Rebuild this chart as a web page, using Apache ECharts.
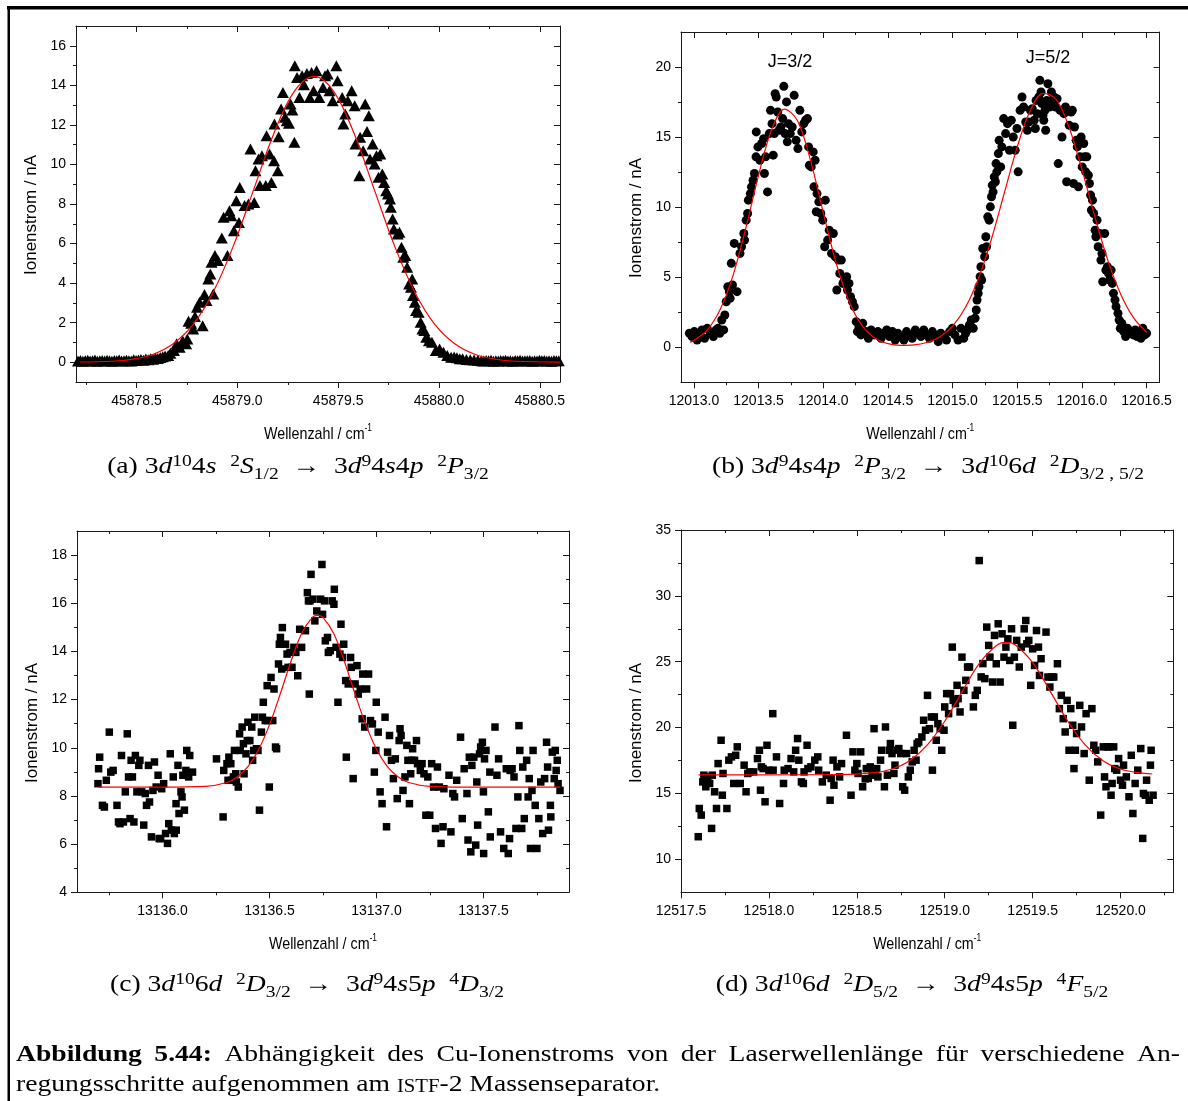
<!DOCTYPE html>
<html>
<head>
<meta charset="utf-8">
<script src="https://cdn.jsdelivr.net/npm/echarts@6/dist/echarts.min.js"></script>
<style>
html,body{margin:0;padding:0;background:#fff}
#chart{width:1188px;height:1101px}
</style>
</head>
<body>
<div id="chart"></div>
<script>
// ---------- (a) 3d10 4s 2S1/2 -> 3d9 4s4p 2P3/2 ----------
const scanA = [
[45878.210,0.06],[45878.222,0.09],[45878.234,0.05],[45878.246,0.08],[45878.258,0.10],[45878.270,0.06],[45878.282,0.07],[45878.294,0.11],[45878.306,0.05],[45878.318,0.08],[45878.330,0.09],[45878.342,0.06],[45878.354,0.10],[45878.366,0.07],[45878.378,0.05],[45878.390,0.09],[45878.402,0.08],[45878.414,0.11],[45878.426,0.06],[45878.438,0.07],[45878.450,0.10],[45878.462,0.08],[45878.474,0.06],[45878.486,0.12],[45878.498,0.09],
[45878.510,0.11],[45878.522,0.14],[45878.534,0.10],[45878.546,0.16],[45878.558,0.13],[45878.570,0.18],[45878.582,0.15],[45878.594,0.21],[45878.606,0.19],[45878.618,0.24],[45878.630,0.28],[45878.642,0.31],[45878.657,0.34],[45878.668,0.45],[45878.686,0.59],[45878.699,0.93],[45878.714,0.76],[45878.729,1.09],[45878.746,0.93],[45878.752,1.18],[45878.758,2.07],[45878.771,1.97],[45878.781,1.68],[45878.790,2.31],[45878.800,2.78],[45878.813,3.03],[45878.828,1.85],[45878.837,3.42],[45878.847,3.12],[45878.856,4.21],[45878.866,4.46],[45878.872,5.05],[45878.881,3.45],[45878.889,5.39],[45878.904,5.14],[45878.923,6.28],[45878.932,7.33],[45878.951,5.39],[45878.961,7.66],[45878.970,7.41],[45878.983,6.65],[45878.995,8.17],
[45879.008,7.07],[45879.012,8.84],[45879.036,7.92],[45879.055,8.00],[45879.065,10.78],[45879.084,8.08],[45879.090,9.68],[45879.105,10.27],[45879.112,8.93],[45879.122,10.44],[45879.141,8.93],[45879.145,11.45],[45879.160,10.53],[45879.169,9.09],[45879.182,10.19],[45879.184,12.04],[45879.201,9.68],[45879.205,11.40],[45879.217,12.80],[45879.226,13.64],[45879.236,12.38],[45879.245,12.21],[45879.256,12.08],[45879.264,13.05],[45879.273,12.75],[45879.283,11.12],[45879.285,14.99],[45879.296,14.40],[45879.308,13.39],[45879.321,14.48],[45879.330,14.03],[45879.345,14.60],[45879.359,13.39],[45879.368,14.65],[45879.378,13.73],[45879.393,14.74],[45879.406,13.39],[45879.425,13.89],[45879.435,14.48],[45879.448,14.57],[45879.457,13.73],[45879.473,13.22],[45879.491,14.99],[45879.497,14.23],
[45879.520,13.39],[45879.526,12.04],[45879.535,12.55],[45879.548,13.22],[45879.567,13.73],[45879.582,12.97],[45879.586,11.03],[45879.605,9.43],[45879.609,11.37],[45879.624,10.69],[45879.634,13.05],[45879.643,11.67],[45879.652,12.46],[45879.658,10.27],[45879.671,11.03],[45879.681,10.02],[45879.690,10.44],[45879.700,9.35],[45879.709,10.53],[45879.719,9.52],[45879.728,9.09],[45879.738,8.67],[45879.747,8.51],[45879.757,8.25],[45879.761,7.83],[45879.770,7.24],[45879.776,6.74],[45879.795,6.48],[45879.804,6.57],[45879.814,5.81],[45879.823,5.31],[45879.833,5.39],[45879.842,4.80],[45879.852,3.96],[45879.861,3.79],[45879.867,4.21],[45879.871,3.37],[45879.880,3.03],[45879.886,2.61],[45879.899,2.53],[45879.909,2.02],[45879.918,1.68],[45879.927,1.60],[45879.937,1.26],[45879.950,1.09],[45879.965,1.01],[45879.984,0.59],
[45880.003,0.67],[45880.022,0.51],[45880.041,0.34],[45880.060,0.25],[45880.075,0.27],[45880.089,0.22],[45880.103,0.18],[45880.117,0.17],[45880.136,0.14],[45880.155,0.13],[45880.174,0.11],[45880.193,0.10],
[45880.210,0.08],[45880.222,0.06],[45880.234,0.09],[45880.246,0.07],[45880.258,0.10],[45880.270,0.05],[45880.282,0.08],[45880.294,0.06],[45880.306,0.09],[45880.318,0.07],[45880.330,0.10],[45880.342,0.06],[45880.354,0.08],[45880.366,0.05],[45880.378,0.09],[45880.390,0.07],[45880.402,0.10],[45880.414,0.06],[45880.426,0.08],[45880.438,0.07],[45880.450,0.09],[45880.462,0.05],[45880.474,0.08],[45880.486,0.06],[45880.498,0.10],[45880.510,0.07],[45880.522,0.09],[45880.534,0.06],[45880.546,0.08],[45880.558,0.05],[45880.570,0.09],[45880.582,0.07],[45880.594,0.08]
];
const fitA = [
[45878.22,0.01],[45878.38,0.05],[45878.48,0.15],[45878.58,0.39],[45878.68,0.92],[45878.78,1.90],[45878.88,3.54],[45878.98,5.87],[45879.08,8.70],[45879.18,11.54],[45879.28,13.66],[45879.38,14.45],
[45879.48,13.66],[45879.58,11.54],[45879.68,8.70],[45879.78,5.87],[45879.88,3.54],[45879.98,1.90],[45880.08,0.92],[45880.18,0.39],[45880.28,0.15],[45880.38,0.05],[45880.60,0.00]
];

// ---------- (b) 3d9 4s4p 2P3/2 -> 3d10 6d 2D3/2,5/2 ----------
const scanB = [
[12012.965,1.00],[12012.985,0.76],[12013.003,1.12],[12013.024,0.52],[12013.038,1.00],[12013.062,1.24],[12013.082,0.64],[12013.103,1.35],[12013.127,1.00],[12013.150,0.76],[12013.171,1.24],[12013.186,1.35],[12013.200,1.00],[12013.215,1.95],[12013.230,1.24],[12013.239,2.30],[12013.250,3.25],[12013.262,4.32],[12013.274,3.97],[12013.280,3.49],[12013.289,5.99],[12013.298,4.44],[12013.312,7.41],[12013.333,3.97],[12013.356,6.70],[12013.368,7.17],[12013.386,8.12],[12013.392,7.65],[12013.404,9.07],[12013.415,9.55],[12013.421,10.50],[12013.436,10.97],[12013.445,11.45],[12013.457,11.92],[12013.468,12.40],[12013.480,13.59],[12013.482,15.37],[12013.495,14.30],
[12013.510,13.35],[12013.524,14.54],[12013.539,14.89],[12013.545,12.40],[12013.554,13.59],[12013.569,11.09],[12013.583,15.25],[12013.592,16.91],[12013.604,15.96],[12013.613,13.71],[12013.622,15.25],[12013.628,18.10],[12013.636,17.86],[12013.648,16.79],[12013.657,15.49],[12013.672,15.72],[12013.686,16.32],[12013.695,18.62],[12013.704,15.25],[12013.716,17.51],[12013.722,14.66],[12013.731,15.96],[12013.745,15.25],[12013.760,15.72],[12013.775,17.98],[12013.790,14.77],[12013.804,14.18],[12013.819,16.91],[12013.834,15.37],[12013.849,15.96],[12013.863,16.20],[12013.878,16.32],[12013.887,14.30],[12013.893,12.99],[12013.907,12.87],[12013.922,13.94],[12013.928,11.45],[12013.937,13.35],[12013.946,9.67],[12013.952,10.97],[12013.966,10.38],[12013.981,9.55],[12013.996,9.07],
[12014.011,7.17],[12014.016,10.50],[12014.034,7.65],[12014.046,8.36],[12014.064,6.70],[12014.078,8.12],[12014.093,6.46],[12014.105,4.09],[12014.117,6.22],[12014.128,5.27],[12014.140,6.22],[12014.152,4.56],[12014.164,4.80],[12014.181,5.04],[12014.187,4.09],[12014.199,4.56],[12014.211,3.61],[12014.226,3.25],[12014.240,2.90],[12014.255,1.83],[12014.264,1.12],[12014.276,1.47],[12014.291,0.88],[12014.305,1.71],[12014.329,1.12],[12014.349,0.64],[12014.370,1.24],[12014.394,0.88],[12014.423,1.12],[12014.447,0.64],[12014.467,1.00],[12014.491,1.24],[12014.512,0.76],[12014.535,1.12],[12014.556,0.52],[12014.576,1.00],[12014.600,0.76],[12014.623,0.52],[12014.644,1.12],[12014.668,0.88],[12014.688,0.64],[12014.712,1.24],[12014.732,1.00],[12014.756,0.76],[12014.777,1.24],[12014.800,0.88],[12014.821,0.64],[12014.844,1.12],[12014.865,0.76],[12014.889,0.40],[12014.909,1.00],[12014.933,0.76],[12014.953,0.52],[12014.977,1.12],[12014.998,1.35],
[12015.018,0.88],[12015.042,0.52],[12015.065,1.35],[12015.086,0.64],[12015.101,1.00],[12015.115,1.24],[12015.130,1.59],[12015.145,1.95],[12015.160,1.35],[12015.174,2.07],[12015.183,2.66],[12015.189,3.37],[12015.198,3.85],[12015.204,4.32],[12015.213,5.04],[12015.219,5.75],[12015.225,4.80],[12015.233,7.05],[12015.248,6.46],[12015.257,7.89],[12015.263,7.17],[12015.272,9.31],[12015.283,9.07],[12015.292,10.02],[12015.301,10.74],[12015.307,11.57],[12015.313,11.09],[12015.322,12.16],[12015.331,11.81],[12015.336,13.11],[12015.342,12.52],[12015.354,13.82],[12015.360,14.77],[12015.372,12.87],[12015.381,14.30],[12015.395,16.32],[12015.410,15.25],[12015.425,15.96],[12015.440,14.06],[12015.454,16.20],[12015.469,15.01],[12015.484,14.06],[12015.498,15.61],
[12015.507,12.52],[12015.522,16.91],[12015.537,17.86],[12015.549,17.15],[12015.566,16.08],[12015.578,15.49],[12015.587,16.08],[12015.602,16.91],[12015.616,17.03],[12015.631,16.20],[12015.640,15.61],[12015.646,17.62],[12015.655,16.67],[12015.667,17.86],[12015.675,19.05],[12015.684,18.22],[12015.690,17.39],[12015.699,16.56],[12015.705,16.20],[12015.714,16.91],[12015.720,15.49],[12015.728,17.62],[12015.737,18.81],[12015.749,17.15],[12015.764,18.22],[12015.773,17.62],[12015.784,17.86],[12015.796,17.15],[12015.808,17.74],[12015.817,13.11],[12015.831,16.91],[12015.846,15.01],[12015.861,16.67],[12015.873,17.15],[12015.882,11.81],[12015.890,16.91],[12015.902,15.84],[12015.917,16.79],[12015.926,16.91],[12015.935,11.69],[12015.943,15.72],[12015.955,14.77],[12015.964,14.30],[12015.973,11.45],[12015.985,13.59],[12015.994,15.01],
[12016.002,12.87],[12016.014,14.54],[12016.020,13.59],[12016.029,12.52],[12016.038,13.59],[12016.050,12.28],[12016.058,11.69],[12016.067,10.86],[12016.073,9.79],[12016.082,10.50],[12016.091,9.55],[12016.102,8.36],[12016.108,7.89],[12016.117,9.07],[12016.126,7.17],[12016.138,8.12],[12016.147,6.22],[12016.155,6.70],[12016.161,4.68],[12016.176,8.12],[12016.185,5.51],[12016.197,5.75],[12016.206,5.27],[12016.214,4.80],[12016.226,5.51],[12016.235,4.56],[12016.244,3.85],[12016.256,3.37],[12016.264,2.90],[12016.279,2.42],[12016.288,1.95],[12016.297,1.35],[12016.309,1.71],[12016.323,1.12],[12016.338,0.76],[12016.353,1.35],[12016.368,1.00],[12016.382,1.12],[12016.397,0.88],[12016.412,1.24],[12016.427,0.76],[12016.441,1.00],[12016.456,0.64],[12016.471,1.35],[12016.486,0.88],[12016.500,1.00]
];
const fitB = [
[12012.97,0.37],[12013.0,0.49],[12013.1,1.20],[12013.2,2.64],[12013.3,5.06],[12013.4,8.46],[12013.5,12.29],[12013.6,15.51],[12013.7,17.00],[12013.8,16.18],[12013.9,13.38],[12014.0,9.61],[12014.1,6.00],[12014.2,3.26],[12014.3,1.54],[12014.4,0.65],[12014.5,0.26],[12014.6,0.14],[12014.7,0.17],[12014.8,0.34],[12014.9,0.74],
[12015.0,1.51],[12015.1,2.85],[12015.2,4.91],[12015.3,7.71],[12015.4,11.01],[12015.5,14.30],[12015.6,16.88],[12015.7,18.13],[12015.8,17.70],[12015.9,15.72],[12016.0,12.69],[12016.1,9.32],[12016.2,6.22],[12016.3,3.79],[12016.4,2.10],[12016.5,1.07]
];

// ---------- (c) 3d10 6d 2D3/2 -> 3d9 4s5p 4D3/2 ----------
const scanC = [
[13135.698,8.51],[13135.701,9.13],[13135.706,9.61],[13135.719,7.61],[13135.728,7.54],[13135.737,8.65],[13135.751,10.65],[13135.758,8.99],[13135.769,9.06],[13135.787,7.61],[13135.794,6.92],[13135.801,6.85],[13135.808,9.68],[13135.817,6.92],[13135.826,8.17],[13135.835,10.58],[13135.841,8.79],[13135.848,7.06],[13135.853,9.48],[13135.859,8.79],[13135.866,6.92],[13135.873,9.68],[13135.880,8.17],[13135.889,9.27],[13135.894,9.48],[13135.902,8.17],[13135.912,6.79],[13135.919,8.10],[13135.925,7.61],[13135.934,9.27],[13135.939,7.75],[13135.948,6.30],[13135.955,8.23],[13135.962,9.41],[13135.970,8.37],[13135.979,8.86],[13135.984,6.23],[13135.991,6.23],[13135.996,8.30],
[13136.005,8.51],[13136.014,6.44],[13136.023,6.03],[13136.029,6.85],[13136.036,9.75],[13136.041,6.58],[13136.050,8.79],[13136.055,6.44],[13136.063,7.68],[13136.064,6.58],[13136.072,9.27],[13136.077,7.27],[13136.086,8.17],[13136.091,7.96],[13136.095,8.86],[13136.102,7.41],[13136.109,9.06],[13136.113,9.89],[13136.122,8.79],[13136.127,9.68],[13136.140,8.99],
[13136.252,9.54],[13136.283,7.13],[13136.286,9.06],[13136.301,9.34],[13136.306,8.65],[13136.310,9.61],[13136.319,9.34],[13136.322,8.65],[13136.331,8.79],[13136.336,9.89],[13136.342,8.92],[13136.345,8.58],[13136.354,8.37],[13136.360,10.58],[13136.363,9.89],[13136.372,10.86],[13136.378,10.17],[13136.381,8.92],[13136.390,9.75],[13136.396,10.30],[13136.399,11.06],[13136.408,10.30],[13136.417,10.86],[13136.421,9.48],[13136.426,9.89],[13136.431,11.27],[13136.439,9.96],[13136.446,9.89],[13136.453,7.41],[13136.462,10.65],[13136.467,11.27],[13136.471,11.89],[13136.480,11.13],[13136.489,12.58],[13136.492,11.13],[13136.499,8.37],
[13136.507,12.92],[13136.515,11.13],[13136.521,12.44],[13136.528,10.03],[13136.533,9.96],[13136.542,13.48],[13136.546,14.30],[13136.551,14.58],[13136.557,13.27],[13136.560,14.99],[13136.575,14.30],[13136.582,13.89],[13136.587,13.34],[13136.596,13.96],[13136.605,13.34],[13136.614,14.17],[13136.623,13.96],[13136.632,12.99],[13136.641,14.92],[13136.650,14.17],[13136.668,14.86],[13136.677,16.44],[13136.682,16.10],[13136.686,12.23],[13136.689,16.10],[13136.694,17.20],[13136.703,16.17],[13136.712,15.27],[13136.721,15.68],[13136.739,16.17],[13136.745,17.61],[13136.748,15.54],[13136.757,16.10],[13136.761,14.44],[13136.771,14.58],[13136.775,13.96],[13136.784,14.03],[13136.793,16.10],[13136.801,15.96],[13136.803,16.58],[13136.811,14.17],[13136.820,11.89],[13136.829,13.89],[13136.834,15.13],[13136.841,13.75],[13136.847,14.30],[13136.856,12.79],[13136.859,9.61],[13136.868,12.65],[13136.879,13.75],[13136.882,13.34],[13136.891,8.72],[13136.900,12.65],[13136.909,13.41],[13136.915,12.23],[13136.924,12.44],[13136.933,11.20],[13136.936,13.06],[13136.945,10.86],[13136.954,12.44],[13136.963,13.06],[13136.972,11.13],[13136.981,10.99],[13136.990,8.99],[13136.997,9.89],[13136.999,11.89],
[13137.008,10.65],[13137.017,8.17],[13137.026,7.68],[13137.040,11.27],[13137.047,6.72],[13137.052,9.82],[13137.061,10.51],[13137.070,9.48],[13137.079,8.72],[13137.088,9.54],[13137.097,7.89],[13137.106,10.30],[13137.110,10.79],[13137.115,10.51],[13137.124,8.23],[13137.133,8.79],[13137.142,10.10],[13137.147,9.48],[13137.154,7.68],[13137.160,8.92],[13137.165,9.48],[13137.169,9.96],[13137.178,9.48],[13137.187,10.30],[13137.192,9.34],[13137.205,9.06],[13137.213,9.34],[13137.222,8.92],[13137.231,7.20],[13137.240,8.79],[13137.249,7.20],[13137.258,9.34],[13137.267,8.37],[13137.276,6.65],[13137.285,9.20],[13137.294,8.37],[13137.302,6.03],[13137.311,6.72],[13137.315,8.30],[13137.339,8.86],[13137.348,6.51],[13137.357,8.10],[13137.365,7.96],[13137.375,8.65],[13137.393,10.44],[13137.401,7.06],[13137.410,9.13],[13137.423,8.10],[13137.428,6.17],[13137.434,9.61],[13137.441,5.68],[13137.446,9.27],[13137.455,9.61],[13137.464,5.96],[13137.469,8.58],[13137.473,6.79],[13137.482,9.75],[13137.487,10.03],[13137.495,10.23],[13137.500,8.17],[13137.501,5.61],
[13137.505,9.54],[13137.512,9.89],[13137.523,7.34],[13137.530,8.99],[13137.532,6.30],[13137.554,10.86],[13137.563,8.86],[13137.571,9.54],[13137.580,6.51],[13137.595,5.82],[13137.607,9.13],[13137.616,5.61],[13137.622,6.23],[13137.625,9.06],[13137.634,9.13],[13137.643,8.79],[13137.652,6.65],[13137.661,7.96],[13137.666,10.92],[13137.670,9.89],[13137.679,6.65],[13137.684,9.20],[13137.691,7.06],[13137.702,9.48],[13137.709,7.96],[13137.714,8.72],[13137.720,5.82],[13137.727,8.23],[13137.732,9.89],[13137.742,7.61],[13137.750,5.82],[13137.759,7.06],[13137.768,8.58],[13137.777,6.44],[13137.786,8.72],[13137.795,10.23],[13137.800,9.20],[13137.804,6.58],[13137.813,7.61],[13137.815,7.13],[13137.822,9.82],[13137.831,8.72],[13137.836,9.89],[13137.840,9.06],[13137.845,9.48],[13137.849,8.51],[13137.858,8.23]
];
const fitC = [
[13135.70,8.37],[13136.00,8.37],[13136.20,8.40],[13136.30,8.56],[13136.35,8.80],[13136.40,9.23],[13136.45,9.94],[13136.50,10.96],[13136.55,12.23],[13136.60,13.58],[13136.65,14.74],[13136.70,15.41],[13136.725,15.50],
[13136.75,15.41],[13136.80,14.74],[13136.85,13.58],[13136.90,12.23],[13136.95,10.96],[13137.00,9.94],[13137.05,9.23],[13137.10,8.80],[13137.15,8.56],[13137.25,8.40],[13137.40,8.37],[13137.86,8.37]
];

// ---------- (d) 3d10 6d 2D5/2 -> 3d9 4s5p 4F5/2 ----------
const scanD = [
[12517.598,11.72],[12517.604,13.86],[12517.615,13.36],[12517.624,15.88],[12517.630,16.39],[12517.641,15.51],[12517.652,16.26],[12517.663,15.76],[12517.674,12.35],[12517.678,16.39],[12517.691,15.13],[12517.702,13.86],[12517.711,17.27],[12517.728,19.04],[12517.735,14.87],[12517.739,16.52],[12517.761,13.86],[12517.772,17.53],[12517.787,17.78],[12517.800,15.76],[12517.811,17.90],[12517.820,18.54],[12517.837,15.76],[12517.859,17.15],[12517.870,15.13],[12517.880,16.52],[12517.891,16.64],[12517.913,16.64],[12517.935,17.65],[12517.946,18.28],[12517.952,15.25],[12517.957,17.02],[12517.967,16.89],[12517.978,14.37],[12517.989,18.66],
[12518.000,16.77],[12518.022,21.06],[12518.024,16.77],[12518.043,17.78],[12518.061,14.24],[12518.083,15.76],[12518.087,16.77],[12518.109,16.89],[12518.126,17.65],[12518.141,16.64],[12518.152,18.28],[12518.163,19.17],[12518.170,17.53],[12518.185,15.88],[12518.196,15.76],[12518.200,16.64],[12518.217,18.66],[12518.222,16.89],[12518.239,17.02],[12518.261,17.53],[12518.278,17.78],[12518.283,16.77],[12518.304,15.88],[12518.326,16.39],[12518.348,14.49],[12518.354,16.14],[12518.365,17.53],[12518.370,15.63],[12518.387,17.02],[12518.402,16.26],[12518.413,17.27],[12518.441,19.42],[12518.467,14.87],[12518.478,18.16],[12518.489,16.77],
[12518.500,17.27],[12518.507,16.52],[12518.522,18.16],[12518.533,15.51],[12518.548,16.11],[12518.554,16.89],[12518.565,16.14],[12518.576,17.02],[12518.587,16.52],[12518.598,19.92],[12518.604,16.39],[12518.613,16.89],[12518.620,16.26],[12518.635,17.53],[12518.641,18.28],[12518.657,15.51],[12518.663,20.05],[12518.674,16.39],[12518.685,18.28],[12518.691,18.79],[12518.700,18.03],[12518.711,16.52],[12518.717,17.15],[12518.728,18.28],[12518.739,18.41],[12518.750,18.03],[12518.761,15.51],[12518.772,15.25],[12518.783,18.03],[12518.793,16.26],[12518.804,16.77],[12518.815,17.40],[12518.826,18.28],[12518.837,17.53],[12518.843,18.79],[12518.852,18.91],[12518.870,19.29],[12518.880,20.56],[12518.891,19.80],[12518.902,22.45],[12518.913,19.92],[12518.924,20.81],[12518.930,16.77],[12518.941,20.81],[12518.952,19.04],[12518.961,20.30],[12518.974,19.92],[12518.983,18.28],[12518.996,19.80],
[12519.000,21.57],[12519.011,22.58],[12519.022,21.06],[12519.033,22.58],[12519.043,26.11],[12519.048,22.07],[12519.061,21.82],[12519.070,23.21],[12519.076,22.20],[12519.087,21.19],[12519.098,25.35],[12519.109,22.83],[12519.120,23.59],[12519.130,24.60],[12519.141,24.60],[12519.163,21.57],[12519.174,22.45],[12519.185,22.83],[12519.196,32.68],[12519.207,23.85],[12519.217,24.86],[12519.228,23.72],[12519.239,27.63],[12519.250,26.24],[12519.257,25.35],[12519.272,23.46],[12519.283,27.00],[12519.293,24.85],[12519.304,27.88],[12519.315,23.46],[12519.326,27.12],[12519.337,25.35],[12519.348,26.11],[12519.359,26.74],[12519.370,25.10],[12519.380,27.50],[12519.387,20.18],[12519.396,25.35],[12519.409,26.62],[12519.424,24.60],[12519.435,26.11],[12519.452,27.50],[12519.461,28.13],[12519.467,26.36],[12519.478,26.62],[12519.489,23.21],
[12519.500,25.98],[12519.511,24.72],[12519.522,27.37],[12519.533,26.11],[12519.539,23.96],[12519.548,25.23],[12519.576,27.25],[12519.587,23.84],[12519.598,23.08],[12519.609,23.84],[12519.620,23.84],[12519.641,24.85],[12519.652,21.44],[12519.663,22.45],[12519.674,20.68],[12519.685,19.67],[12519.696,22.07],[12519.707,18.28],[12519.717,21.44],[12519.728,20.18],[12519.735,16.89],[12519.743,18.28],[12519.750,19.55],[12519.768,21.69],[12519.778,20.05],[12519.793,18.03],[12519.804,21.06],[12519.822,16.01],[12519.837,21.44],[12519.848,18.66],[12519.859,18.28],[12519.870,17.40],[12519.887,13.36],[12519.902,18.54],[12519.909,16.26],[12519.917,15.51],[12519.924,18.54],[12519.935,18.54],[12519.946,14.87],[12519.952,15.76],[12519.961,18.54],[12519.967,16.89],[12519.978,16.77],[12519.989,17.65],
[12520.000,16.01],[12520.011,15.63],[12520.017,17.15],[12520.033,16.26],[12520.048,14.75],[12520.061,17.90],[12520.070,13.48],[12520.083,15.76],[12520.098,16.77],[12520.115,18.41],[12520.126,11.59],[12520.130,15.00],[12520.141,14.87],[12520.148,16.01],[12520.163,14.49],[12520.170,17.15],[12520.174,18.28],[12520.185,14.87]
];
const fitD = [
[12517.60,16.42],[12518.00,16.42],[12518.40,16.43],[12518.60,16.58],[12518.70,16.86],[12518.80,17.49],[12518.90,18.67],[12519.00,20.48],[12519.10,22.75],[12519.20,24.93],[12519.30,26.29],[12519.35,26.47],
[12519.40,26.29],[12519.50,24.93],[12519.60,22.75],[12519.70,20.48],[12519.80,18.67],[12519.90,17.49],[12520.00,16.86],[12520.10,16.58],[12520.18,16.48]
];

// ---------- tick positions ----------
const aTicksX = [45878.5, 45879.0, 45879.5, 45880.0, 45880.5];
const aMinorX = [45878.25, 45878.75, 45879.25, 45879.75, 45880.25];
const aTicksY = [0, 2, 4, 6, 8, 10, 12, 14, 16];
const aMinorY = [1, 3, 5, 7, 9, 11, 13, 15];
const bTicksX = [12013.0, 12013.5, 12014.0, 12014.5, 12015.0, 12015.5, 12016.0, 12016.5];
const bMinorX = [12013.25, 12013.75, 12014.25, 12014.75, 12015.25, 12015.75, 12016.25];
const bTicksY = [0, 5, 10, 15, 20];
const bMinorY = [2.5, 7.5, 12.5, 17.5];
const cTicksX = [13136.0, 13136.5, 13137.0, 13137.5];
const cMinorX = [13135.75, 13136.25, 13136.75, 13137.25, 13137.75];
const cTicksY = [4, 6, 8, 10, 12, 14, 16, 18];
const cMinorY = [5, 7, 9, 11, 13, 15, 17];
const dTicksX = [12517.5, 12518.0, 12518.5, 12519.0, 12519.5, 12520.0];
const dMinorX = [12517.75, 12518.25, 12518.75, 12519.25, 12519.75, 12520.25];
const dTicksY = [10, 15, 20, 25, 30, 35];
const dMinorY = [12.5, 17.5, 22.5, 27.5, 32.5];

// ---------- texts ----------
const yTitle = 'Ionenstrom / nA';
const xTitle = 'Wellenzahl / cm';
const xTitleSup = '-1';
const peakLabels = ['J=3/2', 'J=5/2'];

const SANS = '"Liberation Sans", Arial, sans-serif';
const SERIF = '"Liberation Serif", "Times New Roman", serif';
const INK = '#000';
const AXIS = '#1a1a1a';
const SERIF_SIZE = 24;       // body text size of the captions
const SERIF_WIDEN = 1.15;    // horizontal stretch towards the wider book face

const panels = [
  { grid: {left: 76, top: 26, width: 484, height: 356}, xr: [45878.2, 45880.6], yr: [-1, 17],
    xt: aTicksX, xm: aMinorX, yt: aTicksY, ym: aMinorY, scan: scanA, fit: fitA,
    symbol: 'triangle', size: [12, 11], titleY: 215 },
  { grid: {left: 681, top: 32, width: 478.5, height: 350.3}, xr: [12012.9, 12016.6], yr: [-2.5, 22.5],
    xt: bTicksX, xm: bMinorX, yt: bTicksY, ym: bMinorY, scan: scanB, fit: fitB,
    symbol: 'circle', size: 9, titleY: 218 },
  { grid: {left: 77, top: 531, width: 492, height: 361.3}, xr: [13135.6, 13137.9], yr: [4, 19],
    xt: cTicksX, xm: cMinorX, yt: cTicksY, ym: cMinorY, scan: scanC, fit: fitC,
    symbol: 'rect', size: 7.5, titleY: 723 },
  { grid: {left: 681, top: 530, width: 492.3, height: 362.3}, xr: [12517.5, 12520.3], yr: [7.5, 35],
    xt: dTicksX, xm: dMinorX, yt: dTicksY, ym: dMinorY, scan: scanD, fit: fitD,
    symbol: 'rect', size: 7.5, titleY: 723 }
];

function tickAxis(gi, pos, range, values, len, inside, showLine, labels, fmt) {
  const horizontal = pos === 'bottom' || pos === 'top';
  return {
    gridIndex: gi, type: 'value', position: pos, min: range[0], max: range[1],
    splitLine: {show: false},
    axisLine: {show: showLine, onZero: false, lineStyle: {color: AXIS, width: 1}},
    axisTick: {show: true, inside: inside, length: len, customValues: values,
               lineStyle: {color: AXIS, width: 1}},
    axisLabel: labels ? {show: true, customValues: values, formatter: fmt, margin: horizontal ? 12 : 10,
                         fontSize: 14, fontFamily: SANS, color: INK}
                      : {show: false}
  };
}

const xAxes = [], yAxes = [], grids = [], series = [], graphics = [];
panels.forEach((p, i) => {
  grids.push(Object.assign({containLabel: false}, p.grid));
  const fx = v => v.toFixed(1);
  const fy = v => String(v);
  xAxes.push(tickAxis(i, 'bottom', p.xr, p.xt, 6, false, true, true, fx));
  xAxes.push(tickAxis(i, 'bottom', p.xr, p.xm, 3, false, false, false));
  xAxes.push(tickAxis(i, 'top', p.xr, p.xt, 6, true, true, false));
  xAxes.push(tickAxis(i, 'top', p.xr, p.xm, 3, true, false, false));
  yAxes.push(tickAxis(i, 'left', p.yr, p.yt, 6, false, true, true, fy));
  yAxes.push(tickAxis(i, 'left', p.yr, p.ym, 3, false, false, false));
  yAxes.push(tickAxis(i, 'right', p.yr, p.yt, 6, true, true, false));
  yAxes.push(tickAxis(i, 'right', p.yr, p.ym, 3, true, false, false));

  series.push({
    type: 'scatter', xAxisIndex: 4 * i, yAxisIndex: 4 * i, data: p.scan,
    symbol: p.symbol, symbolSize: p.size, itemStyle: {color: INK, opacity: 1}, z: 2, silent: true
  });
  series.push({
    type: 'line', xAxisIndex: 4 * i, yAxisIndex: 4 * i, data: p.fit,
    symbol: 'none', smooth: 0.35, lineStyle: {color: '#ff0000', width: 1.2}, z: 3, silent: true
  });

  const g = p.grid;
  const cx = g.left + g.width / 2;
  // vertical axis title
  graphics.push({
    type: 'text', x: g.left - 45, y: p.titleY, rotation: Math.PI / 2,
    style: {text: yTitle, fontFamily: SANS, fontSize: 17, fill: INK, align: 'center', verticalAlign: 'middle'}
  });
  // horizontal axis title with superscript unit, drawn narrow
  graphics.push({
    type: 'text', x: cx, y: g.top + g.height + 51, scaleX: 0.84,
    style: {
      text: '{t|' + xTitle + '}{s|' + xTitleSup + '}',
      align: 'center', verticalAlign: 'middle',
      rich: {
        t: {fontFamily: SANS, fontSize: 17, lineHeight: 20, verticalAlign: 'bottom', fill: INK},
        s: {fontFamily: SANS, fontSize: 10, lineHeight: 10, verticalAlign: 'top', fill: INK}
      }
    }
  });
});

// peak annotations in panel (b)
graphics.push({type: 'text', x: 790, y: 62, style: {text: peakLabels[0], fontFamily: SANS, fontSize: 18, fill: INK, align: 'center', verticalAlign: 'middle'}});
graphics.push({type: 'text', x: 1048, y: 58, style: {text: peakLabels[1], fontFamily: SANS, fontSize: 18, fill: INK, align: 'center', verticalAlign: 'middle'}});

// sub-figure captions (term symbols)
const capRich = {
  r:   {fontFamily: SERIF, fontSize: SERIF_SIZE, lineHeight: 34, verticalAlign: 'middle', fill: INK},
  i:   {fontFamily: SERIF, fontSize: SERIF_SIZE, fontStyle: 'italic', lineHeight: 34, verticalAlign: 'middle', fill: INK},
  sup: {fontFamily: SERIF, fontSize: 17, lineHeight: 17, verticalAlign: 'top', fill: INK, padding: [3, 0, 0, 0]},
  sub: {fontFamily: SERIF, fontSize: 17, lineHeight: 17, verticalAlign: 'bottom', fill: INK, padding: [0, 0, 1, 0]}
};
const capA = [['r','(a) 3'],['i','d'],['sup','10'],['r','4'],['i','s'],['r','  '],['sup','2'],['i','S'],['sub','1/2'],['r','  →  3'],['i','d'],['sup','9'],['r','4'],['i','s'],['r','4'],['i','p'],['r','  '],['sup','2'],['i','P'],['sub','3/2']];
const capB = [['r','(b) 3'],['i','d'],['sup','9'],['r','4'],['i','s'],['r','4'],['i','p'],['r','  '],['sup','2'],['i','P'],['sub','3/2'],['r','  →  3'],['i','d'],['sup','10'],['r','6'],['i','d'],['r','  '],['sup','2'],['i','D'],['sub','3/2 , 5/2']];
const capC = [['r','(c) 3'],['i','d'],['sup','10'],['r','6'],['i','d'],['r','  '],['sup','2'],['i','D'],['sub','3/2'],['r','  →  3'],['i','d'],['sup','9'],['r','4'],['i','s'],['r','5'],['i','p'],['r','  '],['sup','4'],['i','D'],['sub','3/2']];
const capD = [['r','(d) 3'],['i','d'],['sup','10'],['r','6'],['i','d'],['r','  '],['sup','2'],['i','D'],['sub','5/2'],['r','  →  3'],['i','d'],['sup','9'],['r','4'],['i','s'],['r','5'],['i','p'],['r','  '],['sup','4'],['i','F'],['sub','5/2']];
const richText = tokens => tokens.map(([k, t]) => '{' + k + '|' + t + '}').join('');
[[capA, 298, 467], [capB, 928, 467], [capC, 307, 985], [capD, 912, 985]].forEach(([c, x, y]) => {
  graphics.push({type: 'text', x: x, y: y, scaleX: SERIF_WIDEN,
    style: {text: richText(c), rich: capRich, align: 'center', verticalAlign: 'middle', fill: INK}});
});

// figure caption, first line justified between the margins
const capLine1 = [['b','Abbildung'],['b','5.44:'],['r','Abhängigkeit'],['r','des'],['r','Cu-Ionenstroms'],['r','von'],['r','der'],['r','Laserwellenlänge'],['r','für'],['r','verschiedene'],['r','An-']];
const meas = document.createElement('canvas').getContext('2d');
const fontOf = s => (s === 'b' ? 'bold ' : '') + SERIF_SIZE + 'px ' + SERIF;
const widths = capLine1.map(([s, t]) => { meas.font = fontOf(s); return meas.measureText(t).width * SERIF_WIDEN; });
const left = 16, right = 1180;
const gap = (right - left - widths.reduce((a, b) => a + b, 0)) / (capLine1.length - 1);
let wx = left;
capLine1.forEach(([s, t], k) => {
  graphics.push({type: 'text', x: wx, y: 1055, scaleX: SERIF_WIDEN,
    style: {text: t, font: fontOf(s), fill: INK, align: 'left', verticalAlign: 'middle'}});
  wx += widths[k] + gap;
});
graphics.push({type: 'text', x: left, y: 1083, scaleX: SERIF_WIDEN,
  style: {text: '{r|regungsschritte aufgenommen am }{sc|ISTF}{r|-2 Massenseparator.}', align: 'left', verticalAlign: 'middle',
    rich: {r: {fontFamily: SERIF, fontSize: SERIF_SIZE, fill: INK, lineHeight: 28, verticalAlign: 'bottom'},
           sc: {fontFamily: SERIF, fontSize: 18, fill: INK, lineHeight: 28, verticalAlign: 'bottom', padding: [0, 0, 1, 0]}}}});

// page frame
graphics.push({type: 'rect', shape: {x: 7, y: 6, width: 1181, height: 3.5}, style: {fill: INK}});
graphics.push({type: 'rect', shape: {x: 7.5, y: 6, width: 2.5, height: 1095}, style: {fill: INK}});

const chart = echarts.init(document.getElementById('chart'), null, {renderer: 'canvas'});
chart.setOption({
  animation: false,
  backgroundColor: '#fff',
  textStyle: {fontFamily: SANS},
  grid: grids,
  xAxis: xAxes,
  yAxis: yAxes,
  series: series,
  graphic: graphics
});
</script>
</body>
</html>
